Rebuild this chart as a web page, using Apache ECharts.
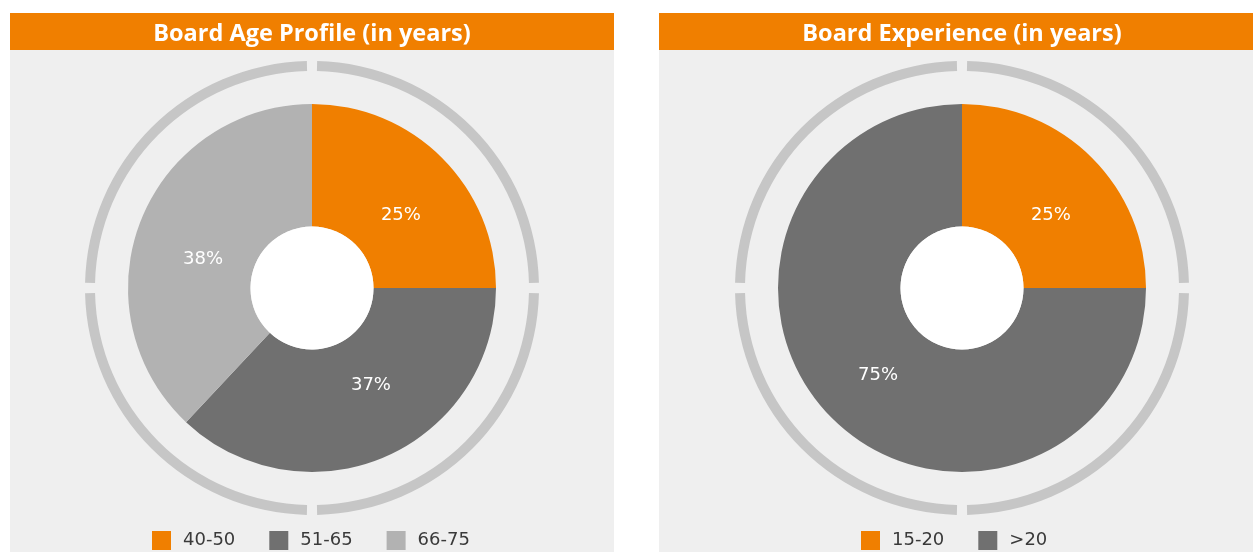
<!DOCTYPE html>
<html>
<head>
<meta charset="utf-8">
<script src="https://cdn.jsdelivr.net/npm/echarts@6/dist/echarts.min.js"></script>
<style>
  html, body { margin: 0; padding: 0; background: #ffffff; }
  #chart { width: 1253px; height: 552px; }
</style>
</head>
<body>
<div id="chart"></div>
<script>
// Board age profile
const ageTitle = 'Board Age Profile (in years)';
const ageCategories = ['40-50', '51-65', '66-75'];
const ageValues = [25, 37, 38];

// Board experience
const expTitle = 'Board Experience (in years)';
const expCategories = ['15-20', '>20'];
const expValues = [25, 75];

// Decorative outer ring split into four quarters
const ringSegments = [1, 1, 1, 1];

const ORANGE = '#f07f00';
const DARK = '#707070';
const LIGHT = '#b2b2b2';
const RING = '#c6c6c6';
const PANEL = '#efefef';

const ageColors = [ORANGE, DARK, LIGHT];
const expColors = [ORANGE, DARK];

// fine placement of the percentage labels inside each slice (pixels)
const ageLabelNudge = [[0, 16], [9, -18], [8, 18]];
const expLabelNudge = [[0, 16], [5, -2]];

const FONT = 'DejaVu Sans';

const panels = [
  { x: 10, w: 604, cx: 312, title: ageTitle, cats: ageCategories, vals: ageValues, colors: ageColors, nudge: ageLabelNudge, legendLeft: 147 },
  { x: 659, w: 594, cx: 962, title: expTitle, cats: expCategories, vals: expValues, colors: expColors, nudge: expLabelNudge, legendLeft: 856 }
];
const CY = 288;

const chart = echarts.init(document.getElementById('chart'), null, { renderer: 'canvas' });

const graphic = [];
const titles = [];
const legends = [];
const series = [];

panels.forEach((p, i) => {
  graphic.push({ type: 'rect', z: -10, shape: { x: p.x, y: 13, width: p.w, height: 552 - 13 }, style: { fill: PANEL } });
  graphic.push({ type: 'rect', z: -9, shape: { x: p.x, y: 13, width: p.w, height: 37 }, style: { fill: ORANGE } });
  graphic.push({ type: 'circle', z: 100, shape: { cx: p.cx, cy: CY, r: 61.5 }, style: { fill: '#ffffff' }, silent: true });

  titles.push({
    text: p.title,
    left: p.cx,
    top: 22,
    padding: 0,
    textAlign: 'center',
    textStyle: { color: '#ffffff', fontSize: 23.5, fontWeight: 'bold', fontFamily: 'Open Sans' }
  });

  legends.push({
    data: p.cats.map(c => ({ name: c })),
    left: p.legendLeft,
    top: 526,
    orient: 'horizontal',
    icon: 'rect',
    itemWidth: 19,
    itemHeight: 19,
    itemGap: 34,
    selectedMode: false,
    textStyle: { color: '#3a3a3a', fontSize: 18, fontFamily: FONT, padding: [0, 0, 0, 7] }
  });

  series.push({
    type: 'pie',
    name: p.title,
    center: [p.cx, CY],
    radius: [61.5, 184],
    startAngle: 90,
    clockwise: true,
    avoidLabelOverlap: false,
    silent: true,
    label: {
      show: true,
      position: 'inside',
      formatter: '{c}%',
      color: '#ffffff',
      fontSize: 18,
      fontFamily: FONT
    },
    labelLine: { show: false },
    itemStyle: { borderWidth: 0 },
    data: p.cats.map((c, k) => ({
      name: c,
      value: p.vals[k],
      itemStyle: { color: p.colors[k] },
      label: { offset: p.nudge[k] }
    }))
  });

  series.push({
    type: 'pie',
    center: [p.cx, CY],
    radius: [217, 227],
    startAngle: 90,
    padAngle: 2.6,
    silent: true,
    label: { show: false },
    labelLine: { show: false },
    itemStyle: { color: RING, borderWidth: 0 },
    data: ringSegments.map((v, k) => ({ name: 'ring' + i + '-' + k, value: v }))
  });
});

chart.setOption({
  animation: false,
  backgroundColor: '#ffffff',
  graphic: graphic,
  title: titles,
  legend: legends,
  series: series
});
</script>
</body>
</html>
